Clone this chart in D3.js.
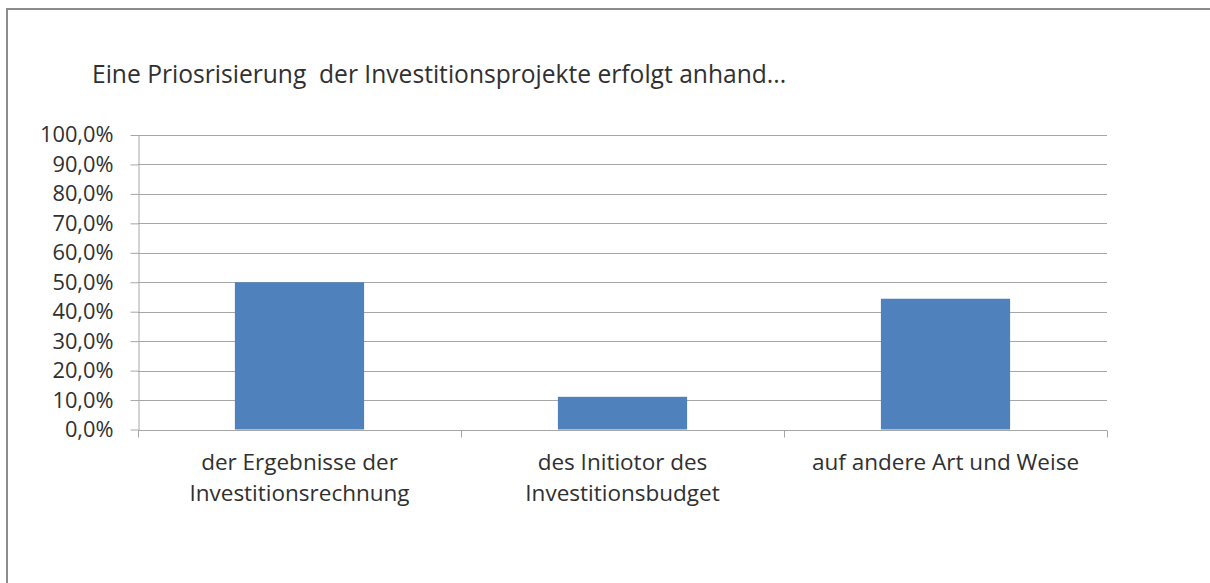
<!DOCTYPE html>
<html>
<head>
    <meta charset="utf-8">
    <style>
        body { margin: 0; background: #fff; }
        text { font-family: "Open Sans", sans-serif; fill: #303030; }
        .grid line { stroke: #a6a6a6; }
        .axis path, .axis line { stroke: #a6a6a6; }
    </style>
    <script src="https://d3js.org/d3.v7.min.js"></script>
</head>
<body>
    <svg width="1210" height="583"></svg>
    <script>
        var categories = [
            ["der Ergebnisse der", "Investitionsrechnung"],
            ["des Initiotor des", "Investitionsbudget"],
            ["auf andere Art und Weise"]
        ];
        var values = [0.50, 0.111, 0.444];
        var yTicks = [0, 0.1, 0.2, 0.3, 0.4, 0.5, 0.6, 0.7, 0.8, 0.9, 1.0];
        var title = "Eine Priosrisierung  der Investitionsprojekte erfolgt anhand...";

        var svg = d3.select("svg");

        // outer frame of the chart
        svg.append("rect")
           .attr("x", 7).attr("y", 9)
           .attr("width", 1300).attr("height", 700)
           .attr("fill", "none")
           .attr("stroke", "#8c8c8c")
           .attr("stroke-width", 2);

        svg.append("text")
           .attr("x", 92).attr("y", 83)
           .attr("font-size", 24.6)
           .attr("xml:space", "preserve")
           .style("white-space", "pre")
           .text(title);

        var plotLeft = 138, plotRight = 1107, plotTop = 135, plotBottom = 429.5;

        var x = d3.scaleBand()
                  .domain(d3.range(categories.length))
                  .range([plotLeft, plotRight]);

        var y = d3.scaleLinear()
                  .domain([0, 1])
                  .range([plotBottom, plotTop]);

        var fmt = function(d) { return d3.format(".1%")(d).replace(".", ","); };

        svg.append("g")
           .attr("class", "grid")
           .selectAll("line")
           .data(yTicks.slice(1))
           .enter().append("line")
           .attr("x1", plotLeft).attr("x2", plotRight)
           .attr("y1", function(d) { return Math.round(y(d)) + 0.5; })
           .attr("y2", function(d) { return Math.round(y(d)) + 0.5; });

        svg.append("g")
           .attr("class", "bars")
           .selectAll("rect")
           .data(values)
           .enter().append("rect")
           .attr("x", function(d, i) { return x(i) + x.bandwidth() * 0.3; })
           .attr("width", x.bandwidth() * 0.4)
           .attr("y", function(d) { return y(d); })
           .attr("height", function(d) { return plotBottom - y(d); })
           .attr("fill", "#4f81bd");

        var yAxis = svg.append("g")
           .attr("class", "axis")
           .attr("transform", "translate(" + (plotLeft + 0.5) + ",0)")
           .call(d3.axisLeft(y).tickValues(yTicks).tickFormat(fmt).tickSize(8).tickPadding(17).tickSizeOuter(0));
        yAxis.selectAll("text").attr("font-size", 21.8).attr("fill", null);
        yAxis.attr("font-family", null).attr("font-size", null);

        var xAxis = svg.append("g")
           .attr("class", "axis")
           .attr("transform", "translate(0," + (Math.round(plotBottom) + 0.5) + ")");
        xAxis.append("line")
             .attr("x1", plotLeft).attr("x2", plotRight);
        xAxis.selectAll(".sep")
             .data(d3.range(categories.length + 1))
             .enter().append("line")
             .attr("class", "sep")
             .attr("x1", function(i) { return Math.round(plotLeft + i * x.step()) + 0.5; })
             .attr("x2", function(i) { return Math.round(plotLeft + i * x.step()) + 0.5; })
             .attr("y1", 0).attr("y2", 7);

        var lbl = xAxis.selectAll(".lbl")
             .data(categories)
             .enter().append("text")
             .attr("class", "lbl")
             .attr("text-anchor", "middle")
             .attr("font-size", 22.5)
             .attr("transform", function(d, i) { return "translate(" + (x(i) + x.bandwidth() / 2) + ",39)"; });
        lbl.selectAll("tspan")
           .data(function(d) { return d; })
           .enter().append("tspan")
           .attr("x", 0)
           .attr("dy", function(d, j) { return j === 0 ? 0 : 31; })
           .text(function(d) { return d; });
    </script>
</body>
</html>
